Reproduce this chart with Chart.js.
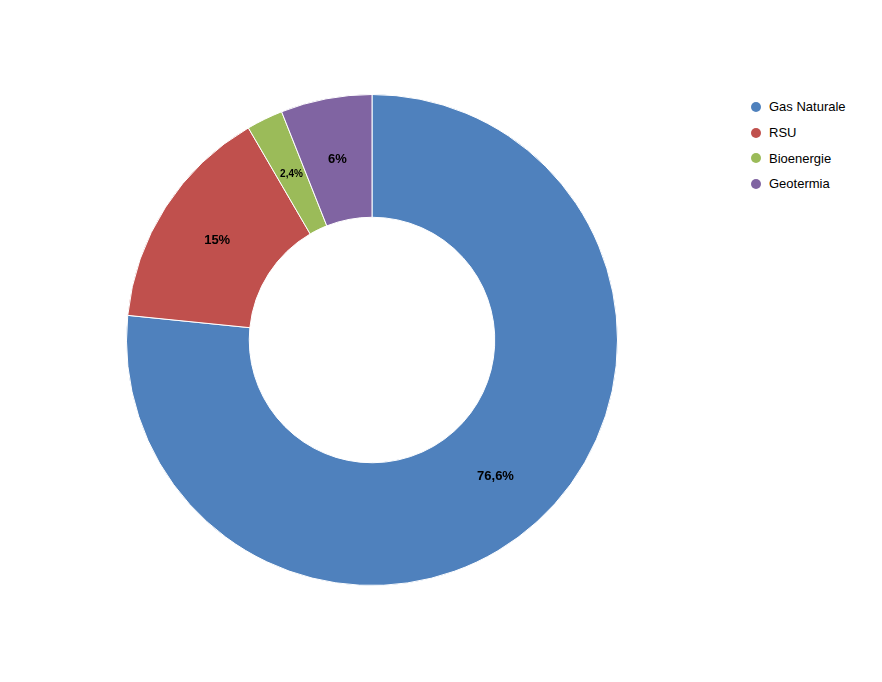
<!DOCTYPE html>
<html>
<head>
<meta charset="utf-8">
<script src="https://cdn.jsdelivr.net/npm/chart.js@4"></script>
<style>
  body { margin: 0; background: #fff; font-family: "Liberation Sans", Arial, sans-serif; }
  #wrap { position: absolute; left: 126px; top: 94px; width: 492px; height: 492px; }
  #legend { position: absolute; left: 751px; top: 94px; font-size: 13px; color: #000; }
  #legend div { height: 25.7px; display: flex; align-items: center; }
  #legend span.dot { width: 10px; height: 10px; border-radius: 50%; margin-right: 8px; display: inline-block; }
</style>
</head>
<body>
<div id="wrap"><canvas id="chart"></canvas></div>
<div id="legend"></div>
<script>
const labels = ["Gas Naturale", "RSU", "Bioenergie", "Geotermia"];
const values = [76.6, 15, 2.4, 6];
const valueLabels = ["76,6%", "15%", "2,4%", "6%"];
const colors = ["#4F81BD", "#C0504D", "#9BBB59", "#8064A2"];

// HTML legend
const legend = document.getElementById("legend");
labels.forEach((l, i) => {
  const row = document.createElement("div");
  row.innerHTML = `<span class="dot" style="background:${colors[i]}"></span>${l}`;
  legend.appendChild(row);
});

// draw value labels in the middle of each slice
const sliceLabels = {
  id: "sliceLabels",
  afterDatasetsDraw(chart) {
    const ctx = chart.ctx;
    chart.getDatasetMeta(0).data.forEach((arc, i) => {
      const p = arc.tooltipPosition();
      ctx.save();
      ctx.fillStyle = "#000";
      ctx.font = (values[i] < 3 ? "bold 10px" : "bold 13px") + " 'Liberation Sans', Arial, sans-serif";
      ctx.textAlign = "center";
      ctx.textBaseline = "middle";
      ctx.fillText(valueLabels[i], p.x, p.y);
      ctx.restore();
    });
  }
};

new Chart(document.getElementById("chart"), {
  type: "doughnut",
  data: {
    labels: labels,
    datasets: [{ data: values, backgroundColor: colors, borderColor: "#fff", borderWidth: 1 }]
  },
  options: {
    responsive: true,
    maintainAspectRatio: false,
    animation: false,
    cutout: "50%",
    plugins: { legend: { display: false }, tooltip: { enabled: false } }
  },
  plugins: [sliceLabels]
});
</script>
</body>
</html>
